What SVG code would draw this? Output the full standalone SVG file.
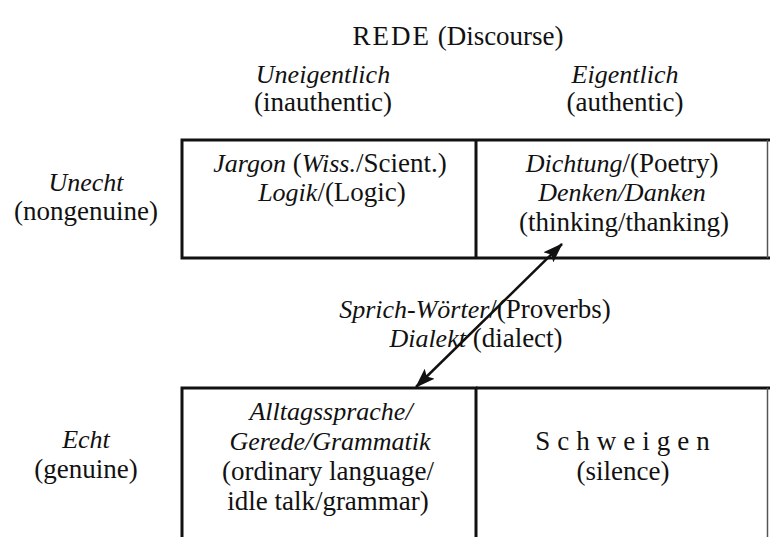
<svg xmlns="http://www.w3.org/2000/svg" width="770" height="537" viewBox="0 0 770 537">
<defs>
<style>
text{font-family:"Liberation Serif","DejaVu Serif",serif;fill:#111;text-anchor:middle;font-size:27px}
.i{font-style:italic;font-size:26px}
.t{font-size:27px}
.box{fill:none;stroke:#111;stroke-width:3}
.edge{fill:none;stroke:#555;stroke-width:1.5}
.conn{stroke:#111;stroke-width:2.5;fill:none}
</style>
<marker id="ah" viewBox="0 0 20 14" refX="19" refY="7" markerWidth="20" markerHeight="14" markerUnits="userSpaceOnUse" orient="auto-start-reverse">
<path d="M0,0 L20,7 L0,14 L4,7 Z" fill="#111"/>
</marker>
</defs>
<rect width="770" height="537" fill="#fff"/>
<g id="title">
<text class="t" x="458" y="45"><tspan letter-spacing="2">REDE</tspan> (Discourse)</text>
</g>
<g id="col-uneigentlich">
<text class="i" x="323" y="83">Uneigentlich</text>
<text x="323" y="111">(inauthentic)</text>
</g>
<g id="col-eigentlich">
<text class="i" x="625" y="83">Eigentlich</text>
<text x="625" y="111">(authentic)</text>
</g>
<g id="row-unecht">
<text class="i" x="86" y="191">Unecht</text>
<text x="86" y="220">(nongenuine)</text>
</g>
<g id="row-echt">
<text class="i" x="86" y="448">Echt</text>
<text x="86" y="478">(genuine)</text>
</g>
<g id="cell-jargon">
<path class="box" d="M476,140 H182 V258 H476"/>
<text x="330" y="172"><tspan class="i">Jargon</tspan> (<tspan class="i">Wiss.</tspan>/Scient.)</text>
<text x="332" y="201"><tspan class="i">Logik</tspan>/(Logic)</text>
</g>
<g id="cell-dichtung">
<path class="box" d="M476,140 H770 M476,258 H770 M476,140 V258"/>
<path class="edge" d="M767.5,140 V258"/>
<text x="622" y="172"><tspan class="i">Dichtung</tspan>/(Poetry)</text>
<text class="i" x="622" y="201">Denken/Danken</text>
<text x="624" y="231">(thinking/thanking)</text>
</g>
<g id="middle">
<text x="475" y="318"><tspan class="i">Sprich-Wörter</tspan>/(Proverbs)</text>
<text x="476" y="347"><tspan class="i">Dialekt</tspan> (dialect)</text>
</g>
<g id="cell-alltag">
<path class="box" d="M182,540 V388 H476 V540"/>
<text class="i" x="331" y="420">Alltagssprache/</text>
<text class="i" x="330" y="450">Gerede/Grammatik</text>
<text x="328" y="480">(ordinary language/</text>
<text x="328" y="510">idle talk/grammar)</text>
</g>
<g id="cell-schweigen">
<path class="box" d="M476,388 H770"/>
<path class="edge" d="M767.5,388 V540"/>
<text x="626" y="450" letter-spacing="7">Schweigen</text>
<text x="623" y="480">(silence)</text>
</g>
<g id="connectors">
<line class="conn" x1="416" y1="387" x2="562" y2="244" marker-start="url(#ah)" marker-end="url(#ah)"/>
</g>
</svg>
